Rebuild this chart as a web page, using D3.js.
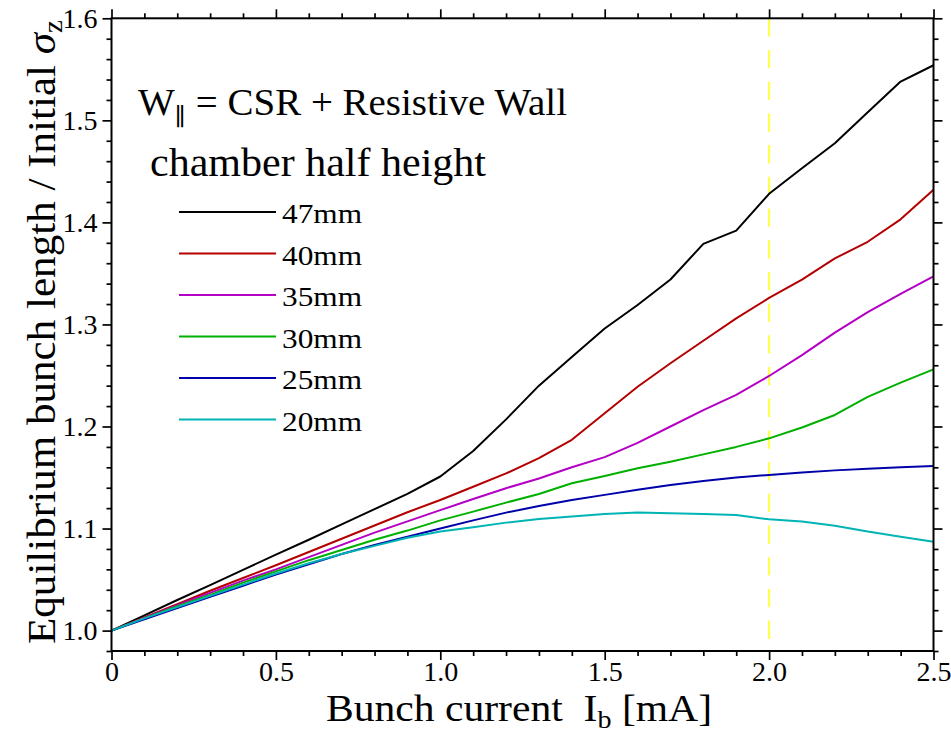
<!DOCTYPE html>
<html><head><meta charset="utf-8">
<script src="https://cdn.jsdelivr.net/npm/d3@7/dist/d3.min.js"></script>
<style>body{margin:0;background:#fff}svg{display:block}</style>
</head><body>
<svg id="c" width="951" height="738"></svg>
<script>
// ---- data ----
const currents = [0,0.1,0.2,0.3,0.4,0.5,0.6,0.7,0.8,0.9,1.0,1.1,1.2,1.3,1.4,1.5,1.6,1.7,1.8,1.9,2.0,2.1,2.2,2.3,2.4,2.5];
const h47 = [1.000,1.015,1.030,1.0445,1.0595,1.0745,1.089,1.104,1.119,1.134,1.151,1.176,1.207,1.240,1.268,1.296,1.319,1.344,1.379,1.392,1.428,1.453,1.4775,1.508,1.538,1.554];
const h40 = [1.000,1.013,1.026,1.039,1.0515,1.064,1.077,1.090,1.103,1.116,1.128,1.141,1.154,1.169,1.187,1.213,1.239,1.262,1.284,1.306,1.326,1.344,1.3647,1.381,1.403,1.432];
const h35 = [1.000,1.0125,1.025,1.037,1.049,1.060,1.072,1.084,1.096,1.107,1.118,1.129,1.1395,1.149,1.160,1.170,1.184,1.200,1.216,1.231,1.2495,1.270,1.292,1.312,1.330,1.347];
const h30 = [1.000,1.012,1.024,1.035,1.047,1.058,1.069,1.079,1.089,1.098,1.108,1.1166,1.1254,1.1339,1.1444,1.1515,1.159,1.1655,1.1727,1.180,1.1884,1.199,1.2113,1.229,1.243,1.256];
const h25 = [1.000,1.011,1.022,1.033,1.044,1.055,1.065,1.075,1.084,1.092,1.100,1.108,1.1156,1.122,1.128,1.133,1.138,1.1427,1.1466,1.150,1.1525,1.155,1.157,1.1587,1.160,1.1613];
const h20 = [1.000,1.012,1.023,1.034,1.045,1.056,1.066,1.075,1.083,1.091,1.097,1.1013,1.1058,1.1094,1.1117,1.1143,1.1156,1.115,1.1143,1.1133,1.109,1.1068,1.1028,1.097,1.092,1.087];
const seriesLabels = ["47mm","40mm","35mm","30mm","25mm","20mm"];
const seriesColors = ["#000000","#b40000","#b400c4","#00b000","#0000aa","#00b4b4"];
const seriesValues = [h47,h40,h35,h30,h25,h20];
const xMajorTicks = [0,0.5,1.0,1.5,2.0,2.5];
const xMinorTicks = [0.1,0.2,0.3,0.4,0.6,0.7,0.8,0.9,1.1,1.2,1.3,1.4,1.6,1.7,1.8,1.9,2.1,2.2,2.3,2.4];
const yMajorTicks = [1.0,1.1,1.2,1.3,1.4,1.5,1.6];
const yMinorTicks = [0.98,1.02,1.04,1.06,1.08,1.12,1.14,1.16,1.18,1.22,1.24,1.26,1.28,1.32,1.34,1.36,1.38,1.42,1.44,1.46,1.48,1.52,1.54,1.56,1.58];
const markerCurrent = 2.0;

// ---- layout ----
const L = 111.5, R = 933.5, T = 18.3, B = 651;
const svg = d3.select("#c");
const x = d3.scaleLinear().domain([0,2.5]).range([L,R]);
const y = d3.scaleLinear().domain([0.98,1.6]).range([B,T]);
const serif = "'Liberation Serif','DejaVu Serif',serif";

// yellow dashed marker
svg.append("line")
  .attr("x1", x(markerCurrent)).attr("x2", x(markerCurrent))
  .attr("y1", y(1.6)).attr("y2", y(0.98))
  .attr("stroke", "#ffff50").attr("stroke-width", 2.2)
  .attr("stroke-dasharray", "18.3,13.4");

// curves
const line = d3.line().x((d,i)=>x(currents[i])).y(d=>y(d));
seriesValues.forEach((vals,k)=>{
  svg.append("path").datum(vals)
    .attr("d", line).attr("fill","none")
    .attr("stroke", seriesColors[k]).attr("stroke-width", 2)
    .attr("stroke-linejoin","round");
});

// axes
function addAxis(gen, tr, major, minor, labelFmt, pad){
  const gMaj = svg.append("g").attr("transform", tr)
    .call(gen.tickValues(major).tickSize(9).tickSizeOuter(0).tickPadding(pad).tickFormat(labelFmt));
  const gMin = svg.append("g").attr("transform", tr)
    .call(gen.tickValues(minor).tickSize(5).tickSizeOuter(0).tickFormat(""));
  [gMaj,gMin].forEach(g=>{
    g.select(".domain").remove();
    g.selectAll(".tick line").attr("stroke","#000").attr("stroke-width",1.7);
    g.selectAll("text").attr("font-family", serif).attr("font-size", 28).attr("fill","#000");
  });
  return gMaj;
}
const xfmt = d => d===0 ? "0" : d3.format(".1f")(d);
addAxis(d3.axisBottom(x), `translate(0,${B})`, xMajorTicks, xMinorTicks, xfmt, 1);
addAxis(d3.axisTop(x), `translate(0,${T})`, xMajorTicks, xMinorTicks, "", 4);
addAxis(d3.axisLeft(y), `translate(${L},0)`, yMajorTicks, yMinorTicks, d3.format(".1f"), 5);
addAxis(d3.axisRight(y), `translate(${R},0)`, yMajorTicks, yMinorTicks, "", 4);

// frame
svg.append("rect").attr("x",L).attr("y",T).attr("width",R-L).attr("height",B-T)
  .attr("fill","none").attr("stroke","#000").attr("stroke-width",2);

// x title
const xt = svg.append("text").attr("x",326).attr("y",721)
  .attr("font-family",serif).attr("font-size",37).attr("fill","#000")
  .attr("textLength",386).attr("lengthAdjust","spacingAndGlyphs");
xt.append("tspan").text("Bunch current\u00a0\u00a0I");
xt.append("tspan").attr("font-size",25).attr("dy",7).text("b");
xt.append("tspan").attr("dy",-7).text(" [mA]");

// y title
const yt = svg.append("text")
  .attr("transform","translate(55,644) rotate(-90)")
  .attr("font-family",serif).attr("font-size",40).attr("fill","#000")
  .attr("textLength",624).attr("lengthAdjust","spacingAndGlyphs");
yt.append("tspan").text("Equilibrium bunch length / Initial ");
yt.append("tspan").attr("font-style","italic").text("σ");
yt.append("tspan").attr("font-size",27).attr("dy",7).text("z");

// legend title
const lt = svg.append("text").attr("x",138).attr("y",115)
  .attr("font-family",serif).attr("font-size",38).attr("fill","#000")
  .attr("textLength",429).attr("lengthAdjust","spacingAndGlyphs");
lt.append("tspan").text("W");
lt.append("tspan").attr("font-size",24).attr("dy",10).text("\u2225");
lt.append("tspan").attr("dy",-10).text(" = CSR + Resistive Wall");

svg.append("text").attr("x",150).attr("y",176)
  .attr("font-family",serif).attr("font-size",39).attr("fill","#000")
  .attr("textLength",336).attr("lengthAdjust","spacingAndGlyphs")
  .text("chamber half height");

// legend entries
seriesLabels.forEach((lab,k)=>{
  const ly = 212 + k*41.5;
  svg.append("line").attr("x1",179).attr("x2",276).attr("y1",ly).attr("y2",ly)
    .attr("stroke",seriesColors[k]).attr("stroke-width",2);
  svg.append("text").attr("x",282).attr("y",ly+11)
    .attr("font-family",serif).attr("font-size",28).attr("fill","#000")
    .attr("textLength",80).attr("lengthAdjust","spacingAndGlyphs")
    .text(lab);
});
</script>
</body></html>
